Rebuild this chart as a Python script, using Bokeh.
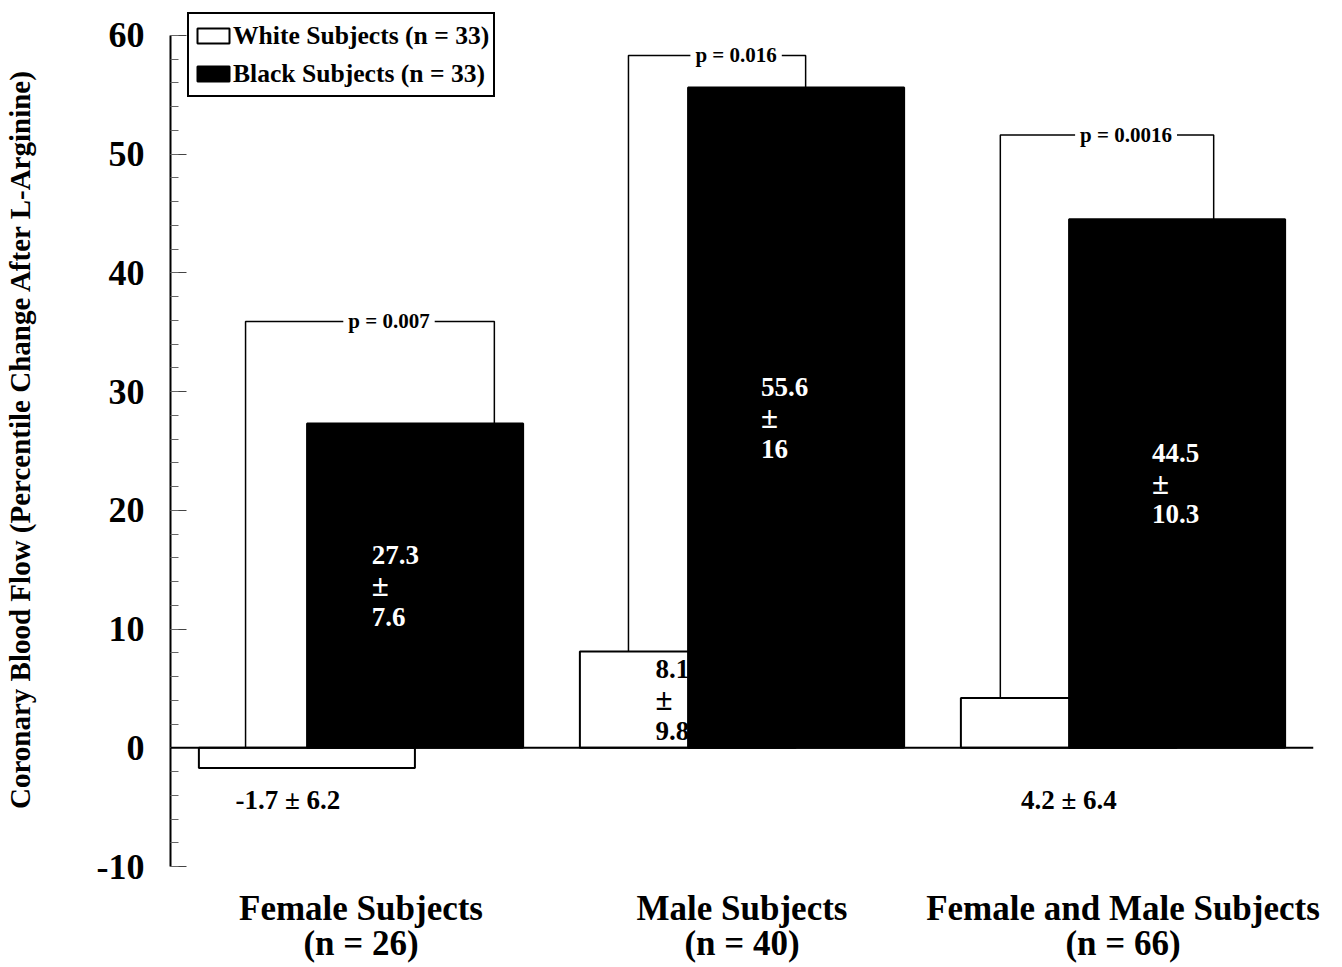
from bokeh.plotting import figure
from bokeh.models import (Range1d, SingleIntervalTicker, FixedTicker, Span, Legend,
                          LegendItem, ColumnDataSource, LabelSet)
from bokeh.embed import file_html
from bokeh.resources import INLINE

# ---------------- data ----------------
categories = ["Female Subjects", "Male Subjects", "Female and Male Subjects"]
group_n = [26, 40, 66]
white_mean = [-1.7, 8.1, 4.2]
white_se = [6.2, 9.8, 6.4]
black_mean = [27.3, 55.6, 44.5]
black_se = [7.6, 16, 10.3]
p_values = ["0.007", "0.016", "0.0016"]
legend_labels = ["White Subjects (n = 33)", "Black Subjects (n = 33)"]
y_label = "Coronary Blood Flow (Percentile Change After L-Arginine)"

# ---------------- layout / style ----------------
FONT = "Liberation Serif"
BAR_W = 0.567
DODGE = 0.142
BRACKET_LEFT = [-0.303, -0.298, -0.322]
BRACKET_RIGHT = [0.350, 0.167, 0.238]
BRACKET_Y = [35.9, 58.3, 51.6]
BLACK_LABEL_DX = [-0.114, -0.092, -0.066]
WHITE_LABEL_DX = [-0.05, -0.085, 0.0]
LINE_GAP = 2.6        # data units between stacked value lines


def fmt(v):
    return str(int(v)) if float(v).is_integer() else str(v)


centers = [i + 0.5 for i in range(len(categories))]
white_x = [c - DODGE for c in centers]
black_x = [c + DODGE for c in centers]

p = figure(width=1342, height=967, x_range=Range1d(0, 3), y_range=Range1d(-10, 62),
           output_backend="svg", toolbar_location=None, title=None,
           min_border_left=170, min_border_right=29, min_border_top=11, min_border_bottom=101)
p.outline_line_color = None
p.xgrid.visible = False
p.ygrid.visible = False
p.background_fill_color = "white"

# y axis
yax = p.yaxis[0]
yax.ticker = SingleIntervalTicker(interval=10, num_minor_ticks=5)
yax.bounds = (-10, 60)
yax.axis_line_color = "black"
yax.axis_line_width = 2
yax.major_tick_in = 16
yax.major_tick_out = 0
yax.minor_tick_in = 8
yax.minor_tick_out = 0
yax.major_tick_line_color = "#444444"
yax.minor_tick_line_color = "#666666"
yax.major_label_overrides = {-10: "-10"}
yax.major_label_text_font = FONT
yax.major_label_text_font_style = "bold"
yax.major_label_text_font_size = "36px"
yax.major_label_text_color = "black"
yax.major_label_standoff = 26
yax.axis_label = y_label
yax.axis_label_text_font = FONT
yax.axis_label_text_font_style = "bold"
yax.axis_label_text_font_size = "29px"
yax.axis_label_text_color = "black"
yax.axis_label_standoff = 58

# x axis: category names
xax = p.xaxis[0]
xax.ticker = FixedTicker(ticks=centers)
xax.major_label_overrides = {c: f"{cat}\n(n = {n})" for c, cat, n in zip(centers, categories, group_n)}
xax.axis_line_color = None
xax.major_tick_line_color = None
xax.minor_tick_line_color = None
xax.major_label_text_font = FONT
xax.major_label_text_font_style = "bold"
xax.major_label_text_font_size = "35px"
xax.major_label_text_line_height = 0.92
xax.major_label_text_color = "black"
xax.major_label_standoff = 16

# bars
r_white = p.vbar(x=white_x, top=white_mean, bottom=0, width=BAR_W,
                 fill_color="white", line_color="black", line_width=2)
r_black = p.vbar(x=black_x, top=black_mean, bottom=0, width=BAR_W,
                 fill_color="black", line_color="black", line_width=2)

p.add_layout(Span(location=0, dimension="width", line_color="black", line_width=2))

# significance brackets
bxs, bys = [], []
for c, l, r, by, w, b in zip(centers, BRACKET_LEFT, BRACKET_RIGHT, BRACKET_Y, white_mean, black_mean):
    bxs.append([c + l, c + l, c + r, c + r])
    bys.append([max(w, 0), by, by, b])
p.multi_line(xs=bxs, ys=bys, line_color="black", line_width=1.5)

p_src = ColumnDataSource(dict(
    x=[c + (l + r) / 2 + 0.05 for c, l, r in zip(centers, BRACKET_LEFT, BRACKET_RIGHT)],
    y=BRACKET_Y,
    text=[f"p = {v}" for v in p_values]))
p.add_layout(LabelSet(x="x", y="y", source=p_src, text="text", text_align="center",
                      text_baseline="middle", text_font=FONT, text_font_style="bold",
                      text_font_size="21px", text_color="black",
                      background_fill_color="white", border_line_color="white",
                      border_line_width=10))

# value labels
stack = dict(x=[], y=[], text=[], color=[], size=[])
single = dict(x=[], y=[], text=[])
for wx, bx, w, ws, b, bs, wdx, bdx in zip(white_x, black_x, white_mean, white_se,
                                          black_mean, black_se, WHITE_LABEL_DX, BLACK_LABEL_DX):
    mid = b / 2
    for dy, t, sz in [(LINE_GAP, fmt(b), "27px"), (0, "±", "31px"), (-LINE_GAP, fmt(bs), "27px")]:
        stack["x"].append(bx + bdx); stack["y"].append(mid + dy); stack["text"].append(t)
        stack["color"].append("white"); stack["size"].append(sz)
    if w > 6:
        mid = w / 2
        for dy, t, sz in [(LINE_GAP, fmt(w), "27px"), (0, "±", "31px"), (-LINE_GAP, fmt(ws), "27px")]:
            stack["x"].append(wx + wdx); stack["y"].append(mid + dy); stack["text"].append(t)
            stack["color"].append("black"); stack["size"].append(sz)
    else:
        single["x"].append(wx + wdx); single["y"].append(-4.4)
        single["text"].append(f"{fmt(w)} ± {fmt(ws)}")

p.text(x="x", y="y", text="text", source=ColumnDataSource(stack), text_align="left",
       text_baseline="middle", text_font={"value": FONT}, text_font_style="bold",
       text_font_size="size", text_color="color")
p.text(x="x", y="y", text="text", source=ColumnDataSource(single), text_align="center",
       text_baseline="middle", text_font={"value": FONT}, text_font_style="bold",
       text_font_size={"value": "27px"}, text_color="black")

# legend
legend = Legend(items=[LegendItem(label=legend_labels[0], renderers=[r_white]),
                       LegendItem(label=legend_labels[1], renderers=[r_black])],
                location=(17, 769), orientation="vertical",
                border_line_color="black", border_line_width=2, border_line_alpha=1,
                background_fill_color="white", background_fill_alpha=1,
                padding=4, spacing=3, margin=0, glyph_width=40, glyph_height=19,
                label_standoff=0, label_height=35, label_text_font=FONT,
                label_text_font_style="bold", label_text_font_size="25.6px",
                label_text_color="black")
p.add_layout(legend)

open("out.html", "w").write(file_html(p, INLINE))
